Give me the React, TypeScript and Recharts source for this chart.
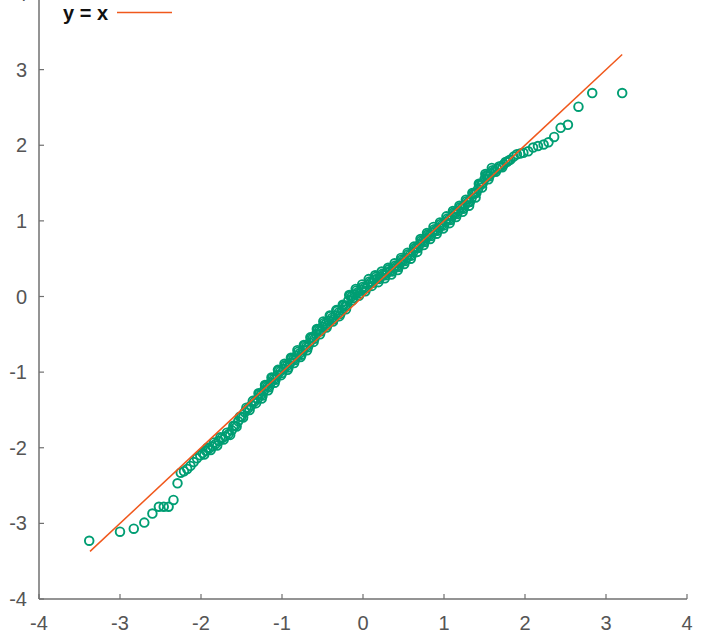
import React from 'react'
import { ScatterChart, Scatter, XAxis, YAxis } from 'recharts'

// theoretical quantiles (x) and sample quantiles (y)
const qx = [
  -3.38, -3.0, -2.83, -2.7, -2.6, -2.52, -2.46, -2.4, -2.34, -2.29, -2.25, -2.21, -2.17, -2.13, -2.09, -2.05, -2.01,
  -1.98, -1.94, -1.9, -1.86, -1.82, -1.78, -1.74, -1.7, -1.66, -1.62, -1.58, -1.54, -1.5, -1.46, -1.42, -1.38,
  -1.34, -1.3, -1.26, -1.22, -1.18, -1.14, -1.1, -1.06, -1.02, -0.98, -0.94, -0.9, -0.86, -0.82, -0.78, -0.74,
  -0.7, -0.66, -0.62, -0.58, -0.54, -0.5, -0.46, -0.42, -0.38, -0.34, -0.3, -0.26, -0.22, -0.18, -0.14, -0.1,
  -0.06, -0.02, 0.02, 0.06, 0.1, 0.14, 0.18, 0.22, 0.26, 0.3, 0.34, 0.38, 0.42, 0.46, 0.5, 0.54, 0.58, 0.62,
  0.66, 0.7, 0.74, 0.78, 0.82, 0.86, 0.9, 0.94, 0.98, 1.02, 1.06, 1.1, 1.14, 1.18, 1.22, 1.26, 1.3, 1.34, 1.38,
  1.42, 1.46, 1.5, 1.54, 1.58, 1.62, 1.66, 1.7, 1.74, 1.78, 1.82, 1.86, 1.9, 1.94, 1.98, 2.04, 2.1, 2.16, 2.23,
  2.29, 2.36, 2.44, 2.53, 2.66, 2.83, 3.2,
]
const qy = [
  -3.23, -3.11, -3.07, -2.99, -2.87, -2.78, -2.78, -2.78, -2.69, -2.47, -2.33, -2.31, -2.28, -2.24, -2.19, -2.14, -2.1,
  -2.07, -2.04, -2.01, -1.98, -1.95, -1.91, -1.87, -1.85, -1.82, -1.77, -1.71, -1.65, -1.59, -1.53, -1.48, -1.44,
  -1.39, -1.35, -1.3, -1.24, -1.19, -1.14, -1.09, -1.04, -0.99, -0.96, -0.92, -0.88, -0.83, -0.78, -0.75, -0.71,
  -0.66, -0.61, -0.55, -0.5, -0.45, -0.4, -0.36, -0.32, -0.28, -0.25, -0.21, -0.18, -0.13, -0.05, 0.0, 0.03,
  0.06, 0.09, 0.12, 0.16, 0.19, 0.22, 0.24, 0.26, 0.29, 0.32, 0.34, 0.37, 0.4, 0.44, 0.48, 0.51, 0.55, 0.59,
  0.64, 0.69, 0.73, 0.77, 0.81, 0.85, 0.88, 0.91, 0.95, 0.99, 1.02, 1.06, 1.1, 1.13, 1.17, 1.21, 1.25, 1.3, 1.36,
  1.42, 1.48, 1.55, 1.6, 1.63, 1.66, 1.69, 1.72, 1.75, 1.78, 1.81, 1.85, 1.88, 1.89, 1.9, 1.92, 1.97, 1.99, 2.01,
  2.04, 2.11, 2.23, 2.27, 2.51, 2.69, 2.69,
]
// in-between points of the dense middle band
const qx2 = [
  -1.96, -1.92, -1.88, -1.84, -1.8, -1.76, -1.72, -1.68, -1.64, -1.6, -1.56, -1.52, -1.48, -1.44, -1.4, -1.36,
  -1.32, -1.28, -1.24, -1.2, -1.16, -1.12, -1.08, -1.04, -1.0, -0.96, -0.92, -0.88, -0.84, -0.8, -0.76, -0.72,
  -0.68, -0.64, -0.6, -0.56, -0.52, -0.48, -0.44, -0.4, -0.36, -0.32, -0.28, -0.24, -0.2, -0.16, -0.12, -0.08,
  -0.04, 0.0, 0.04, 0.08, 0.12, 0.16, 0.2, 0.24, 0.28, 0.32, 0.36, 0.4, 0.44, 0.48, 0.52, 0.56, 0.6, 0.64, 0.68,
  0.72, 0.76, 0.8, 0.84, 0.88, 0.92, 0.96, 1.0, 1.04, 1.08, 1.12, 1.16, 1.2, 1.24, 1.28, 1.32, 1.36, 1.4, 1.44,
  1.48, 1.52, 1.56, 1.6, 1.64, 1.68, 1.72, 1.76, 1.8,
]
const qy2 = [
  -2.09, -2.0, -2.03, -1.93, -1.97, -1.86, -1.89, -1.8, -1.83, -1.71, -1.72, -1.59, -1.6, -1.47, -1.5, -1.38,
  -1.41, -1.29, -1.31, -1.18, -1.2, -1.08, -1.1, -0.98, -1.01, -0.91, -0.94, -0.82, -0.84, -0.73, -0.77, -0.65,
  -0.67, -0.55, -0.56, -0.44, -0.46, -0.35, -0.38, -0.26, -0.3, -0.19, -0.23, -0.12, -0.12, 0.01, -0.02, 0.08,
  0.04, 0.13, 0.11, 0.2, 0.18, 0.26, 0.23, 0.3, 0.28, 0.36, 0.33, 0.41, 0.39, 0.49, 0.47, 0.56, 0.54, 0.64, 0.64,
  0.74, 0.72, 0.82, 0.8, 0.89, 0.87, 0.96, 0.94, 1.03, 1.01, 1.11, 1.09, 1.18, 1.16, 1.26, 1.25, 1.36, 1.37, 1.48,
  1.5, 1.6, 1.59, 1.67, 1.65, 1.72, 1.71, 1.78, 1.8,
]
const qx3 = [
  -1.29, -1.25, -1.21, -1.17, -1.13, -1.09, -1.05, -1.01, -0.97, -0.93, -0.89, -0.85, -0.81, -0.77, -0.73, -0.69,
  -0.65, -0.61, -0.57, -0.53, -0.49, -0.45, -0.41, -0.37, -0.33, -0.29, -0.25, -0.21, -0.17, -0.13, -0.09, -0.05,
  -0.01, 0.03, 0.07, 0.11, 0.15, 0.19, 0.23, 0.27, 0.31, 0.35, 0.39, 0.43, 0.47, 0.51, 0.55, 0.59, 0.63, 0.67,
  0.71, 0.75, 0.79, 0.83, 0.87, 0.91, 0.95, 0.99, 1.03, 1.07, 1.11, 1.15, 1.19, 1.23, 1.27, 1.31, 1.35, 1.39,
  1.43, 1.47, 1.51, 1.55, 1.59,
]
const qy3 = [
  -1.28, -1.35, -1.17, -1.24, -1.07, -1.14, -0.97, -1.04, -0.89, -0.97, -0.81, -0.88, -0.71, -0.8, -0.64, -0.71,
  -0.54, -0.6, -0.43, -0.5, -0.33, -0.41, -0.25, -0.33, -0.18, -0.26, -0.11, -0.17, 0.02, -0.05, 0.1, 0.01,
  0.16, 0.07, 0.23, 0.14, 0.28, 0.19, 0.33, 0.24, 0.38, 0.29, 0.44, 0.35, 0.51, 0.43, 0.58, 0.5, 0.66, 0.59,
  0.76, 0.68, 0.84, 0.76, 0.92, 0.83, 0.98, 0.9, 1.06, 0.97, 1.13, 1.05, 1.2, 1.12, 1.28, 1.2, 1.37, 1.31,
  1.49, 1.44, 1.62, 1.55, 1.7,
]
const refLine = [-3.37, 3.2]
const ticks = [-4, -3, -2, -1, 0, 1, 2, 3, 4]

const points = qx.map((x, i) => ({ x, y: qy[i] }))
  .concat(qx2.map((x, i) => ({ x, y: qy2[i] })))
  .concat(qx3.map((x, i) => ({ x, y: qy3[i] })))
const linePts = refLine.map(v => ({ x: v, y: v }))

const GREEN = '#009e73'
const ORANGE = '#f0581c'
const AXIS = '#707070'
const FONT = '"Liberation Sans", Arial, Helvetica, sans-serif'

const XTick = (p: any) => (
  <g>
    <line x1={p.x} x2={p.x} y1={p.y} y2={p.y - 5} stroke={AXIS} strokeWidth={1.2} />
    <text x={p.x} y={p.y + 31} textAnchor="middle" fontSize={20} fill="#555" fontFamily={FONT}>{p.payload.value}</text>
  </g>
)

const YTick = (p: any) => (
  <g>
    <line x1={p.x} x2={p.x + 5} y1={p.y} y2={p.y} stroke={AXIS} strokeWidth={1.2} />
    <text x={p.x - 12} y={p.y + 7} textAnchor="end" fontSize={20} fill="#555" fontFamily={FONT}>{p.payload.value}</text>
  </g>
)

const Ring = (p: any) => <circle cx={p.cx} cy={p.cy} r={4.3} fill="none" stroke={GREEN} strokeWidth={1.9} />

export default function App() {
  return (
    <div style={{ position: 'absolute', left: 0, top: -20, width: 708, height: 656, background: '#fff' }}>
      <ScatterChart width={708} height={656} margin={{ top: 14, right: 21, bottom: 0, left: 0 }}>
        <XAxis
          type="number"
          dataKey="x"
          domain={[-4, 4]}
          ticks={ticks}
          height={37}
          tickSize={0}
          tickMargin={0}
          tick={<XTick />}
          axisLine={{ stroke: AXIS, strokeWidth: 1.5 }}
          allowDataOverflow
        />
        <YAxis
          type="number"
          dataKey="y"
          domain={[-4, 4]}
          ticks={ticks}
          width={39}
          tickSize={0}
          tickMargin={0}
          tick={<YTick />}
          axisLine={{ stroke: AXIS, strokeWidth: 1.5 }}
          allowDataOverflow
        />
        <Scatter data={points} shape={<Ring />} isAnimationActive={false} />
        <Scatter
          data={linePts}
          line={{ stroke: ORANGE, strokeWidth: 1.5 }}
          shape={() => <g />}
          isAnimationActive={false}
        />
      </ScatterChart>
      <svg width={200} height={30} style={{ position: 'absolute', left: 0, top: 20 }}>
        <rect x={55} y={0} width={125} height={28} fill="#fff" />
        <text x={63} y={20} fontSize={20} fontWeight="bold" fill="#111" fontFamily={FONT}>y = x</text>
        <line x1={117} x2={172} y1={12.5} y2={12.5} stroke={ORANGE} strokeWidth={1.5} />
      </svg>
    </div>
  )
}
